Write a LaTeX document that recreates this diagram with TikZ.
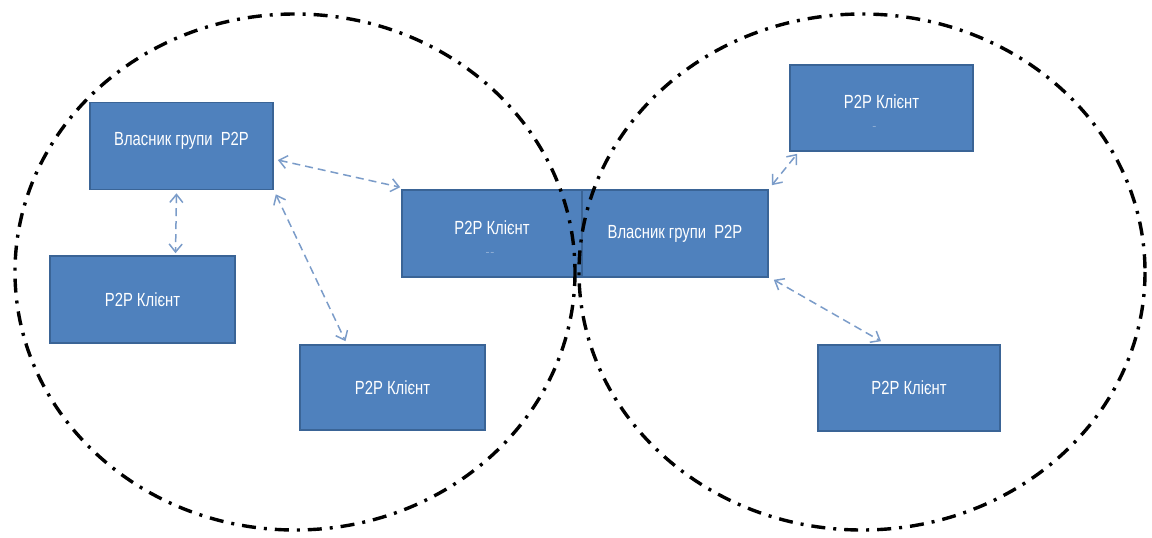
\documentclass[tikz,border=0pt]{standalone}
\usepackage{fontspec}
\setmainfont{Liberation Sans}[FakeStretch=0.78]
\usetikzlibrary{arrows.meta}
\definecolor{boxfill}{HTML}{4F81BD}
\definecolor{boxedge}{HTML}{3A6496}
\definecolor{linkblue}{HTML}{7B9CC9}
\tikzset{
  peer/.style={draw=boxedge, line width=1.6pt, fill=boxfill, text=white,
    font=\fontsize{19}{21}\selectfont, align=center, inner sep=0pt},
  stray/.style={text=white!75!boxfill, font=\fontsize{7}{7}\selectfont, inner sep=0pt},
  link/.style={draw=linkblue, line width=1.5pt, dash pattern=on 8pt off 5pt,
    {Straight Barb[length=8pt,width=13pt]}-{Straight Barb[length=8pt,width=13pt]}},
  group/.style={draw=black, line width=3.4pt,
    dash pattern=on 14pt off 8pt on 3pt off 8pt}
}
\begin{document}
\begin{tikzpicture}[x=1pt,y=-1pt]
\useasboundingbox (0,0) rectangle (1152,538);
% peers of the left group
\node[peer, minimum width=183pt, minimum height=87pt] (ownerL) at (181.5,146) {Власник групи~~P2P\\[-6pt]};
\node[peer, minimum width=185pt, minimum height=87pt] (clientL) at (142.5,299.5) {P2P Клієнт};
\node[peer, minimum width=185pt, minimum height=85pt] (clientB) at (392.5,387.5) {P2P Клієнт};
\node[peer, minimum width=180pt, minimum height=87pt,
      label={[stray, yshift=-20pt, xshift=-2pt]center:-- --}] (midC) at (492,233.5) {P2P Клієнт\\[-9pt]};
% peers of the right group
\node[peer, minimum width=186pt, minimum height=87pt] (midO) at (675,233.5) {Власник групи~~P2P};
\node[peer, minimum width=183pt, minimum height=86pt,
      label={[stray, yshift=-19pt, xshift=-7pt]center:--}] (trC) at (881.5,108) {P2P Клієнт\\[-9pt]};
\node[peer, minimum width=182pt, minimum height=86pt] (brC) at (909,388) {P2P Клієнт};
% links between peers
\draw[link] ([xshift=-5pt,yshift=-3pt]ownerL.south) -- ([xshift=33pt,yshift=2pt]clientL.north);
\draw[link] ([xshift=4pt,yshift=-14pt]ownerL.east) -- ([xshift=-1pt,yshift=2pt]midC.north west);
\draw[link] ([xshift=2pt,yshift=-4pt]ownerL.south east) -- ([xshift=-47pt,yshift=3pt]brC.north -| clientB.north);
\draw[link] ([xshift=3pt,yshift=4pt]midO.north east) -- ([xshift=8pt,yshift=-2pt]trC.south west);
\draw[link] ([xshift=5pt,yshift=-2pt]midO.south east) -- ([xshift=-28pt,yshift=3pt]brC.north);
% group boundaries
\coordinate (groupL) at (295,272);
\coordinate (groupR) at (862,272);
\draw[group] (groupL) ellipse [x radius=280, y radius=258];
\draw[group] (groupR) ellipse [x radius=283, y radius=258];
\end{tikzpicture}
\end{document}
